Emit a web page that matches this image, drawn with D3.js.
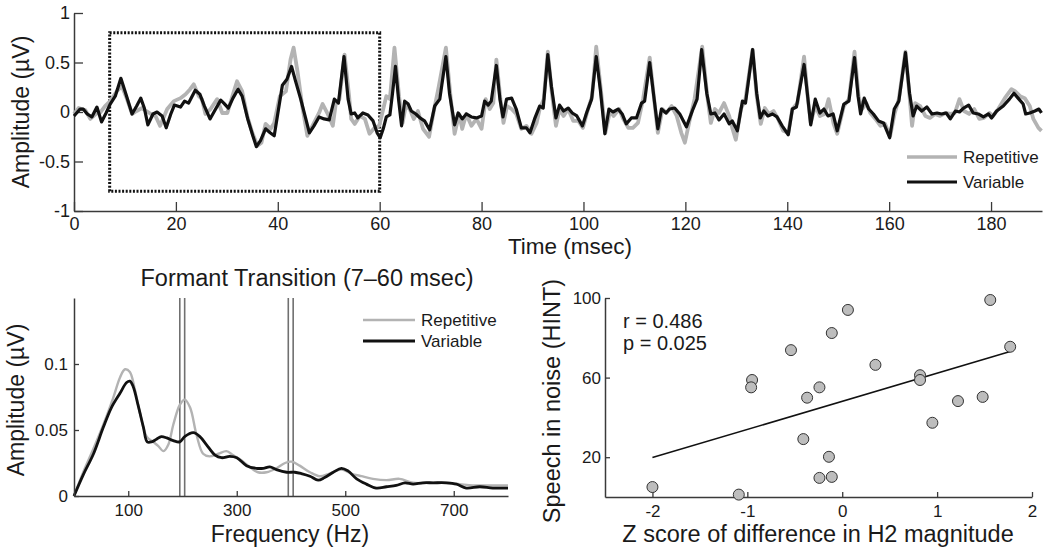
<!DOCTYPE html>
<html>
<head>
<meta charset="utf-8">
<script src="https://cdn.jsdelivr.net/npm/d3@7"></script>
<style>
html,body{margin:0;padding:0;background:#fff;}
svg{display:block;font-family:"Liberation Sans",Arial,sans-serif;}
</style>
</head>
<body>
<svg id="chart" width="1050" height="558"></svg>
<script>
// ---------- DATA ----------
// Top panel: time (ms) vs amplitude (µV)
const timeTicks = [0,20,40,60,80,100,120,140,160,180];
const ampTicks = [-1,-0.5,0,0.5,1];
const transitionWindow = {start:7, end:60, lo:-0.8, hi:0.8};
const variableWave = [[0,-0.04],[1.2,0.03],[1.8,0.03],[2.6,-0.02],[3.5,-0.05],[4.5,0.05],[5.4,-0.1],[6.3,-0.01],[7.1,0.08],[8.1,0.16],[9.2,0.34],[10.2,0.18],[11.4,-0.02],[12.3,0.06],[13.1,0.14],[13.8,0.04],[14.5,-0.13],[15.5,-0.02],[16.3,0],[17.3,-0.04],[18.1,-0.16],[19,-0.02],[19.7,0.07],[20.9,0.05],[21.7,0.11],[22.5,0.09],[23.8,0.22],[24.7,0.18],[25.6,0.06],[26.7,-0.07],[27.8,0.03],[28.8,0.12],[29.4,0.09],[30.3,0.04],[31.2,0.14],[32.2,0.23],[33,0.16],[34.1,-0.07],[35.1,-0.24],[35.8,-0.35],[36.6,-0.29],[37.6,-0.17],[38.5,-0.21],[39.3,-0.24],[40.9,0.27],[41.8,0.33],[42.7,0.46],[43.5,0.31],[44.5,0.13],[45.5,-0.07],[46.2,-0.21],[47.1,-0.14],[48.1,-0.05],[49.1,-0.07],[50.1,-0.08],[51.1,0.13],[51.9,0.09],[53,0.56],[53.8,0.13],[54.4,-0.02],[55.1,-0.01],[55.7,-0.06],[56.7,-0.01],[57.7,-0.03],[58.7,-0.09],[59.5,-0.21],[60.1,-0.26],[60.7,-0.17],[61.3,-0.05],[62,-0.03],[62.5,0.18],[63.1,0.46],[63.7,0.13],[64.3,-0.14],[64.9,0.11],[65.6,0.08],[66.2,0.01],[67.1,-0.02],[67.9,-0.06],[68.8,-0.09],[69.8,-0.18],[70.8,0.06],[71.8,0.13],[73,0.56],[73.7,0.19],[74.7,-0.13],[75.4,-0.01],[76.2,-0.07],[77,-0.02],[78,-0.05],[79,-0.06],[80,-0.04],[80.6,0.11],[81.3,0.07],[81.9,0.11],[82.9,0.47],[83.6,0.13],[84.2,-0.05],[84.9,0.13],[85.9,0.14],[86.8,0.03],[87.8,-0.16],[88.8,-0.16],[89.5,-0.21],[90.4,-0.07],[91.4,0.06],[92.1,0.04],[93,0.58],[93.7,0.26],[94.6,-0.06],[95.3,0.07],[96.1,0.01],[97,0.04],[97.8,-0.01],[98.7,-0.04],[99.8,-0.14],[100.6,-0.01],[101.6,0.13],[102.5,0.56],[103.3,0.23],[104.2,-0.22],[105,0.03],[105.8,0],[106.8,0.03],[107.6,-0.02],[108.4,-0.12],[109.4,-0.06],[110.4,-0.06],[111.4,0.09],[112,0.11],[113,0.5],[113.8,0.16],[114.6,-0.17],[115.3,0.03],[116.2,-0.01],[116.9,0.03],[117.9,0.04],[118.9,-0.02],[120.2,-0.15],[121.5,0.03],[122.3,0.13],[123.2,0.63],[124.2,0.19],[125,-0.02],[125.8,-0.01],[126.6,-0.08],[127.6,-0.02],[128.6,-0.12],[129.2,-0.09],[130.2,-0.19],[131.2,0.11],[131.8,0.09],[133.2,0.63],[134,0.19],[134.7,-0.06],[135.4,0.01],[136.2,-0.04],[137.1,-0.02],[138,-0.05],[139,-0.14],[140.2,-0.23],[141,0.03],[141.8,0.05],[143.3,0.48],[144,0.16],[144.6,-0.13],[145.5,0.13],[146.4,-0.01],[147.2,0.03],[148,-0.04],[149,-0.02],[149.8,-0.19],[151.1,0.08],[152.1,0.11],[153.2,0.55],[153.9,0.16],[154.4,-0.02],[155.1,0.14],[156,0.03],[156.9,-0.02],[157.9,-0.09],[158.9,-0.11],[160.1,-0.26],[161,0.03],[161.9,0.11],[163.2,0.6],[164,0.19],[164.7,-0.04],[165.4,0.06],[166.4,0.01],[167.4,0.05],[168.4,-0.02],[169.4,-0.01],[170.3,-0.02],[171.2,-0.01],[172,-0.07],[173,0.01],[173.8,0],[174.6,0.04],[175.6,0.07],[176.5,-0.01],[177.5,-0.02],[178.5,-0.05],[179.5,-0.02],[180.1,-0.06],[181.1,0.01],[182.4,0.06],[183.6,0.13],[184.5,0.19],[185.3,0.14],[186.3,0.08],[186.8,-0.02],[187.6,-0.01],[188.6,0.01],[189.4,0.03],[189.9,-0.01]];
const repetitiveWave = [[0,-0.02],[0.9,0.04],[2.2,0.02],[3.2,-0.07],[4.5,-0.01],[5.1,-0.01],[6.1,0.06],[7.1,0.11],[8.4,0.21],[9.4,0.26],[10.4,0.13],[11.4,-0.02],[12.3,0.01],[13.3,0.04],[14.2,0.01],[15.1,-0.02],[16,-0.04],[16.9,-0.14],[18.3,0.03],[19.6,0.11],[20.9,0.14],[21.9,0.18],[22.8,0.23],[23.5,0.28],[24.5,0.16],[25.1,0.13],[25.8,-0.02],[26.8,0.03],[28.1,0.13],[29.1,-0.01],[30.1,-0.01],[31.2,0.18],[32,0.31],[33,0.21],[34,-0.04],[35,-0.21],[36,-0.34],[36.8,-0.31],[37.6,-0.12],[38.6,-0.17],[39.3,-0.11],[40.4,0.16],[41.6,0.21],[42.5,0.53],[43.1,0.65],[43.9,0.4],[44.8,0.06],[45.8,-0.24],[46.8,-0.14],[48.1,-0.01],[48.8,0.08],[49.8,-0.02],[50.8,-0.14],[51.4,0.09],[52.1,0.13],[53.1,0.58],[54,0.16],[54.4,-0.07],[55.1,-0.12],[56.1,-0.04],[57.1,-0.07],[58,-0.22],[59,-0.16],[59.9,-0.14],[60.7,0.03],[61.3,0.16],[62,0.13],[62.9,0.65],[63.8,0.16],[64.5,-0.11],[65.1,0.06],[65.9,0.03],[66.7,-0.07],[67.5,0.01],[68.5,-0.17],[69.7,-0.25],[70.7,0.03],[71.5,0.23],[73,0.65],[73.9,0.16],[74.7,-0.22],[75.6,-0.02],[76.2,-0.17],[77,-0.02],[78,-0.14],[79,-0.07],[80,-0.17],[80.8,0.13],[81.6,0.03],[82.3,0.09],[82.9,0.53],[83.7,0.13],[84.3,-0.11],[85,0.06],[85.9,0.03],[86.8,-0.02],[87.8,-0.17],[88.8,-0.14],[89.8,-0.22],[90.8,-0.11],[91.4,0.03],[92.2,0.13],[93,0.61],[93.8,0.19],[94.6,-0.14],[95.3,0.03],[96.1,-0.04],[97,0.03],[98,-0.09],[99,-0.09],[99.9,-0.16],[100.9,0.03],[101.7,0.16],[102.5,0.66],[103.4,0.23],[104.3,-0.21],[105.2,0.01],[105.9,-0.04],[107,0.03],[107.8,-0.07],[108.8,-0.16],[109.7,-0.16],[110.7,-0.11],[111.7,0.13],[113,0.55],[113.8,0.16],[114.6,-0.21],[115.5,0.03],[116.3,-0.01],[117.3,0.06],[118.3,-0.04],[119.2,-0.21],[119.9,-0.31],[120.9,-0.07],[121.8,0.13],[123.3,0.66],[124.3,0.16],[125,-0.11],[125.8,0.03],[126.6,-0.01],[127.6,0.09],[128.6,-0.04],[129.2,-0.16],[129.9,-0.28],[130.9,0.03],[131.8,0.13],[133.2,0.63],[134,0.16],[134.8,-0.12],[135.6,0.04],[136.4,-0.02],[137.3,0.01],[138.2,-0.07],[139.2,-0.19],[140.2,-0.21],[141,0.03],[142,0.09],[143.3,0.56],[144,0.16],[144.6,-0.11],[145.5,0.06],[146.4,-0.04],[147.3,-0.02],[148.1,0.13],[149.1,-0.12],[149.8,-0.22],[151.1,0.06],[152.1,0.13],[153.2,0.61],[154,0.16],[154.7,0.03],[155.5,0.09],[156.3,-0.01],[157.3,-0.07],[158.3,-0.14],[159.2,-0.12],[160.2,-0.24],[161.1,-0.01],[161.9,0.13],[163.2,0.61],[164,0.16],[164.5,-0.14],[165.1,0.09],[166.1,0.06],[167.1,-0.04],[168,-0.06],[169,-0.02],[170,-0.04],[171,-0.01],[172,-0.02],[172.9,-0.01],[173.8,0.13],[174.7,0.01],[175.7,-0.02],[176.7,0.03],[177.7,-0.07],[178.6,-0.06],[179.7,-0.01],[180.4,-0.04],[181.4,0.03],[182.7,0.14],[184,0.23],[184.7,0.21],[185.7,0.16],[186.6,0.14],[187.6,0.06],[188.3,-0.07],[189.3,-0.16],[189.9,-0.19]];
const seriesNames = ["Repetitive","Variable"];

// Bottom-left: spectrum
const freqTicks = [100,300,500,700];
const specAmpTicks = [0,0.05,0.1];
const harmonicBands = [[195,204],[395,404]];
const variableSpectrum = [[0,0],[17,0.016],[36,0.032],[54,0.052],[69,0.067],[85,0.078],[97,0.086],[103,0.087],[109,0.083],[118,0.069],[128,0.052],[135,0.041],[143,0.041],[152,0.043],[161,0.045],[171,0.044],[183,0.042],[195,0.041],[204,0.045],[220,0.048],[232,0.045],[244,0.039],[260,0.031],[272,0.029],[287,0.030],[300,0.029],[318,0.023],[336,0.021],[349,0.021],[361,0.022],[373,0.020],[392,0.018],[407,0.018],[419,0.017],[435,0.015],[450,0.012],[462,0.014],[478,0.018],[493,0.021],[505,0.019],[521,0.013],[539,0.009],[557,0.006],[576,0.007],[594,0.008],[610,0.010],[625,0.009],[643,0.010],[662,0.010],[686,0.010],[705,0.009],[723,0.006],[748,0.007],[772,0.006],[800,0.006]];
const repetitiveSpectrum = [[0,0],[17,0.018],[36,0.036],[54,0.054],[72,0.074],[85,0.090],[94,0.096],[103,0.094],[112,0.081],[122,0.062],[134,0.045],[146,0.041],[155,0.038],[165,0.034],[174,0.039],[183,0.054],[195,0.069],[204,0.073],[214,0.067],[226,0.046],[238,0.032],[250,0.030],[266,0.032],[281,0.034],[293,0.031],[309,0.027],[324,0.022],[339,0.018],[355,0.018],[373,0.021],[389,0.025],[401,0.026],[416,0.023],[435,0.018],[453,0.015],[471,0.017],[493,0.020],[511,0.017],[530,0.015],[551,0.013],[576,0.012],[600,0.013],[625,0.010],[655,0.010],[686,0.010],[711,0.009],[735,0.008],[772,0.008],[800,0.008]];

// Bottom-right: scatter
const zTicks = [-2,-1,0,1,2];
const hintTicks = [20,60,100];
const zScores = [-2.0,-1.09,-0.95,-0.96,-0.54,-0.37,-0.24,-0.41,-0.14,-0.24,-0.11,-0.11,0.06,0.35,0.82,0.82,0.95,1.22,1.48,1.56,1.77];
const hintScores = [5.0,1.2,58.8,55.1,73.8,49.9,55.1,29.1,20.2,9.6,10.1,82.4,94.0,66.4,61.2,58.8,37.3,48.2,50.3,99.0,75.5];
const fitLine = [[-2,19.8],[1.77,73.1]];
const statsText = ["r = 0.486","p = 0.025"];

// ---------- DRAW ----------
const svg = d3.select("#chart");
const FONT = '"Liberation Sans",Arial,sans-serif';
const AX = "#3a3a3a", TXT = "#1a1a1a", GRAY = "#b3b3b3", BLACK = "#111";

function styleAxis(g, fs){
  g.select(".domain").attr("stroke",AX).attr("stroke-width",1.5);
  g.selectAll(".tick line").attr("stroke",AX).attr("stroke-width",1.3);
  g.selectAll(".tick text").attr("fill",TXT).style("font-size",fs+"px").style("font-family",FONT);
}
const fmt = d => String(d);

// ----- Top panel -----
const xT = d3.scaleLinear().domain([0,190]).range([74,1042]);
const yT = d3.scaleLinear().domain([-1,1]).range([211,13]);

const gxT = svg.append("g").attr("transform",`translate(0,${yT(-1)})`)
  .call(d3.axisBottom(xT).tickValues(timeTicks).tickFormat(fmt).tickSizeInner(-9).tickSizeOuter(0).tickPadding(6));
styleAxis(gxT,18);
const gyT = svg.append("g").attr("transform",`translate(${xT(0)},0)`)
  .call(d3.axisLeft(yT).tickValues(ampTicks).tickFormat(fmt).tickSizeInner(-9).tickSizeOuter(0).tickPadding(4));
styleAxis(gyT,18);

svg.append("rect")
  .attr("x",xT(transitionWindow.start)).attr("y",yT(transitionWindow.hi))
  .attr("width",xT(transitionWindow.end)-xT(transitionWindow.start))
  .attr("height",yT(transitionWindow.lo)-yT(transitionWindow.hi))
  .attr("fill","none").attr("stroke","#111").attr("stroke-width",3)
  .attr("stroke-dasharray","2,1.6");

const lineT = d3.line().x(d=>xT(d[0])).y(d=>yT(d[1]));
svg.append("path").datum(repetitiveWave).attr("d",lineT)
  .attr("fill","none").attr("stroke",GRAY).attr("stroke-width",3.8).attr("stroke-linejoin","round");
svg.append("path").datum(variableWave).attr("d",lineT)
  .attr("fill","none").attr("stroke",BLACK).attr("stroke-width",3.2).attr("stroke-linejoin","round");

// top legend
[[GRAY,3.6,157],[BLACK,3.2,182]].forEach((s,i)=>{
  svg.append("line").attr("x1",907).attr("x2",957).attr("y1",s[2]).attr("y2",s[2])
    .attr("stroke",s[0]).attr("stroke-width",s[1]);
  svg.append("text").attr("x",963).attr("y",s[2]).attr("dy","0.35em")
    .attr("fill",TXT).style("font-size","17px").text(seriesNames[i]);
});

svg.append("text").attr("x",570).attr("y",254).attr("text-anchor","middle")
  .attr("fill",TXT).style("font-size","22.5px").text("Time (msec)");
svg.append("text").attr("transform","translate(29,112) rotate(-90)").attr("text-anchor","middle")
  .attr("fill",TXT).style("font-size","23px").text("Amplitude (µV)");

// ----- Bottom-left spectrum -----
const xS = d3.scaleLinear().domain([0,800]).range([74,508]);
const yS = d3.scaleLinear().domain([0,0.15]).range([496,298]);

harmonicBands.forEach(b=>{
  b.forEach(f=>{
    svg.append("line").attr("x1",xS(f)).attr("x2",xS(f)).attr("y1",yS(0)).attr("y2",yS(0.15))
      .attr("stroke","#707070").attr("stroke-width",1.6);
  });
});

const lineS = d3.line().x(d=>xS(d[0])).y(d=>yS(d[1])).curve(d3.curveCatmullRom.alpha(0.5));
svg.append("path").datum(repetitiveSpectrum).attr("d",lineS)
  .attr("fill","none").attr("stroke",GRAY).attr("stroke-width",2.4);
svg.append("path").datum(variableSpectrum).attr("d",lineS)
  .attr("fill","none").attr("stroke",BLACK).attr("stroke-width",2.8);

const gxS = svg.append("g").attr("transform",`translate(0,${yS(0)})`)
  .call(d3.axisBottom(xS).tickValues(freqTicks).tickFormat(fmt).tickSizeInner(-5).tickSizeOuter(0).tickPadding(8));
styleAxis(gxS,17);
const gyS = svg.append("g").attr("transform",`translate(${xS(0)},0)`)
  .call(d3.axisLeft(yS).tickValues(specAmpTicks).tickFormat(fmt).tickSizeInner(-5).tickSizeOuter(0).tickPadding(6));
styleAxis(gyS,17);

[[GRAY,2.4,320],[BLACK,2.8,341]].forEach((s,i)=>{
  svg.append("line").attr("x1",363).attr("x2",415).attr("y1",s[2]).attr("y2",s[2])
    .attr("stroke",s[0]).attr("stroke-width",s[1]);
  svg.append("text").attr("x",421).attr("y",s[2]).attr("dy","0.35em")
    .attr("fill",TXT).style("font-size","17px").text(seriesNames[i]);
});

svg.append("text").attr("x",307).attr("y",286).attr("text-anchor","middle")
  .attr("fill",TXT).style("font-size","23.5px").text("Formant Transition (7–60 msec)");
svg.append("text").attr("x",290).attr("y",542).attr("text-anchor","middle")
  .attr("fill",TXT).style("font-size","23px").text("Frequency (Hz)");
svg.append("text").attr("transform","translate(24,400) rotate(-90)").attr("text-anchor","middle")
  .attr("fill",TXT).style("font-size","23px").text("Amplitude (µV)");

// ----- Bottom-right scatter -----
const xC = d3.scaleLinear().domain([-2.5,2]).range([605,1032]);
const yC = d3.scaleLinear().domain([0,100]).range([497,298]);

const gxC = svg.append("g").attr("transform",`translate(0,${yC(0)})`)
  .call(d3.axisBottom(xC).tickValues(zTicks).tickFormat(fmt).tickSizeInner(-5).tickSizeOuter(0).tickPadding(8));
styleAxis(gxC,17);
const gyC = svg.append("g").attr("transform",`translate(${xC(-2.5)},0)`)
  .call(d3.axisLeft(yC).tickValues(hintTicks).tickFormat(fmt).tickSizeInner(-5).tickSizeOuter(0).tickPadding(4));
styleAxis(gyC,17);

svg.append("path").datum(fitLine)
  .attr("d",d3.line().x(d=>xC(d[0])).y(d=>yC(d[1])))
  .attr("stroke","#111").attr("stroke-width",1.6).attr("fill","none");

svg.append("g").selectAll("circle").data(zScores.map((z,i)=>[z,hintScores[i]])).join("circle")
  .attr("cx",d=>xC(d[0])).attr("cy",d=>yC(d[1])).attr("r",5.5)
  .attr("fill","#bdbdbd").attr("stroke","#333").attr("stroke-width",1);

statsText.forEach((t,i)=>{
  svg.append("text").attr("x",623).attr("y",328+i*22).attr("fill",TXT)
    .style("font-size","20px").text(t);
});

svg.append("text").attr("x",818).attr("y",542).attr("text-anchor","middle")
  .attr("fill",TXT).style("font-size","23.5px").text("Z score of difference in H2 magnitude");
svg.append("text").attr("transform","translate(560,401) rotate(-90)").attr("text-anchor","middle")
  .attr("fill",TXT).style("font-size","23.5px").text("Speech in noise (HINT)");
</script>
</body>
</html>
